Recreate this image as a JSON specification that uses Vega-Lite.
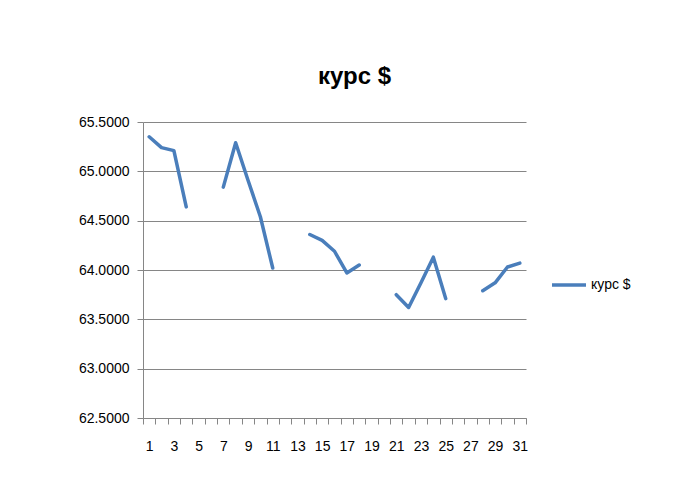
{
  "$schema": "https://vega.github.io/schema/vega-lite/v6.json",
  "width": 383,
  "height": 296,
  "autosize": {"type": "none"},
  "padding": {"left": 143, "top": 122, "right": 170, "bottom": 79},
  "background": "white",
  "title": {"text": "курс $", "font": "Liberation Sans", "fontSize": 24, "fontWeight": "bold", "color": "#000000", "offset": 26, "dx": 20, "anchor": "middle"},
  "data": {"values": [
    {"day": 1, "rate": 65.35, "series": "курс $"},
    {"day": 2, "rate": 65.24, "series": "курс $"},
    {"day": 3, "rate": 65.21, "series": "курс $"},
    {"day": 4, "rate": 64.64, "series": "курс $"},
    {"day": 5, "rate": null, "series": "курс $"},
    {"day": 6, "rate": null, "series": "курс $"},
    {"day": 7, "rate": 64.84, "series": "курс $"},
    {"day": 8, "rate": 65.29, "series": "курс $"},
    {"day": 9, "rate": 64.91, "series": "курс $"},
    {"day": 10, "rate": 64.54, "series": "курс $"},
    {"day": 11, "rate": 64.02, "series": "курс $"},
    {"day": 12, "rate": null, "series": "курс $"},
    {"day": 13, "rate": null, "series": "курс $"},
    {"day": 14, "rate": 64.36, "series": "курс $"},
    {"day": 15, "rate": 64.30, "series": "курс $"},
    {"day": 16, "rate": 64.19, "series": "курс $"},
    {"day": 17, "rate": 63.97, "series": "курс $"},
    {"day": 18, "rate": 64.05, "series": "курс $"},
    {"day": 19, "rate": null, "series": "курс $"},
    {"day": 20, "rate": null, "series": "курс $"},
    {"day": 21, "rate": 63.75, "series": "курс $"},
    {"day": 22, "rate": 63.62, "series": "курс $"},
    {"day": 23, "rate": 63.87, "series": "курс $"},
    {"day": 24, "rate": 64.13, "series": "курс $"},
    {"day": 25, "rate": 63.71, "series": "курс $"},
    {"day": 26, "rate": null, "series": "курс $"},
    {"day": 27, "rate": null, "series": "курс $"},
    {"day": 28, "rate": 63.79, "series": "курс $"},
    {"day": 29, "rate": 63.87, "series": "курс $"},
    {"day": 30, "rate": 64.03, "series": "курс $"},
    {"day": 31, "rate": 64.07, "series": "курс $"}
  ]},
  "mark": {"type": "line", "strokeWidth": 3.5, "invalid": "break-paths-show-domains", "strokeCap": "round", "strokeJoin": "round"},
  "encoding": {
    "x": {
      "field": "day", "type": "ordinal", "bandPosition": 0.5,
      "scale": {"type": "band", "paddingInner": 0, "paddingOuter": 0},
      "axis": {
        "title": null, "labelAngle": 0, "tickBand": "extent", "labelOverlap": false,
        "labelExpr": "datum.value % 2 == 1 ? datum.label : ''",
        "labelFont": "Liberation Sans", "labelFontSize": 14, "labelColor": "#000000",
        "labelPadding": 15, "tickSize": 6, "tickColor": "#868686", "domainColor": "#868686",
        "grid": false
      }
    },
    "y": {
      "field": "rate", "type": "quantitative",
      "scale": {"domain": [62.5, 65.5], "nice": false, "zero": false},
      "axis": {
        "title": null, "values": [62.5, 63, 63.5, 64, 64.5, 65, 65.5], "format": ".4f",
        "labelFont": "Liberation Sans", "labelFontSize": 14, "labelColor": "#000000",
        "labelPadding": 8, "tickSize": 6, "tickColor": "#868686", "domainColor": "#868686",
        "grid": true, "gridColor": "#868686", "gridWidth": 1
      }
    },
    "color": {
      "field": "series", "type": "nominal",
      "scale": {"range": ["#4a7ebb"]},
      "legend": {
        "title": null, "orient": "none", "legendX": 407, "legendY": 144,
        "symbolType": "stroke", "symbolSize": 1156, "symbolStrokeWidth": 3.5,
        "labelFont": "Liberation Sans", "labelFontSize": 14, "labelColor": "#000000", "labelOffset": 3
      }
    }
  },
  "config": {"view": {"stroke": null}}
}
